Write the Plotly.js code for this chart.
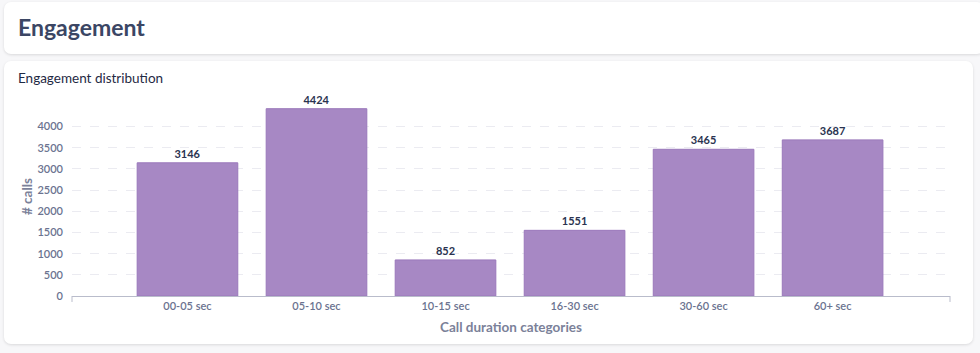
<!DOCTYPE html>
<html><head><meta charset="utf-8">
<script src="https://cdn.plot.ly/plotly-3.0.1.min.js"></script>
<style>
html,body{margin:0;padding:0;background:#f7f7f9;width:980px;height:353px;overflow:hidden;font-family:Lato,"Open Sans",sans-serif;}
.card{position:absolute;background:#fff;border-radius:7px;box-shadow:0 1px 3px rgba(0,0,0,0.12);}
#c1{left:4px;top:2px;width:980px;height:52px;}
#c1 h1{margin:0;position:absolute;left:14px;top:11px;font-size:23px;font-weight:700;color:#3b4664;}
#c2{left:4px;top:61px;width:969px;height:283px;}
#c2 .t{position:absolute;left:14px;top:9px;font-size:13.5px;color:#1f2a44;}
#chart{position:absolute;left:0;top:0;width:980px;height:353px;}
</style></head>
<body>
<div class="card" id="c1"><h1>Engagement</h1></div>
<div class="card" id="c2"><div class="t">Engagement distribution</div></div>
<div id="chart"></div>
<script>
const categories = ["00-05 sec","05-10 sec","10-15 sec","16-30 sec","30-60 sec","60+ sec"];
const calls = [3146, 4424, 852, 1551, 3465, 3687];
const yTicks = [0,500,1000,1500,2000,2500,3000,3500,4000];

const trace = {
  type:'bar', x:categories, y:calls,
  text:calls.map(String), textposition:'outside', cliponaxis:false,
  textfont:{family:'Lato', size:11, color:'#2a3350', weight:700},
  marker:{color:'#a788c4', line:{color:'#9a78bb', width:1}},
  hoverinfo:'none'
};
const layout = {
  width:980, height:353,
  margin:{l:72, r:30, t:97, b:57},
  paper_bgcolor:'rgba(0,0,0,0)', plot_bgcolor:'rgba(0,0,0,0)',
  bargap:0.22, showlegend:false,
  font:{family:'Lato', color:'#6b7390'},
  xaxis:{
    type:'category', range:[-0.895, 5.91], showgrid:false, zeroline:false,
    showline:true, linecolor:'#b9bccb', linewidth:1, ticks:'',
    tickfont:{size:11, color:'#6b7390', family:'Lato', weight:600},
    title:{text:'Call duration categories', font:{size:13.5, color:'#7b8199', family:'Lato', weight:700}, standoff:11}
  },
  yaxis:{
    range:[0, 4700], tickvals:yTicks, ticktext:yTicks.map(String),
    showgrid:true, gridcolor:'#ebebf1', griddash:'dash', gridwidth:1,
    zeroline:false, showline:false, ticks:'', ticklabelstandoff:8,
    tickfont:{size:11, color:'#6b7390', family:'Lato', weight:600},
    title:{text:'# calls', font:{size:13.5, color:'#7b8199', family:'Lato', weight:700}, standoff:1}
  },
  shapes:[
    {type:'line', xref:'paper', yref:'paper', x0:0, x1:0, y0:0, y1:-0.03, line:{color:'#b9bccb', width:1}},
    {type:'line', xref:'paper', yref:'paper', x0:1, x1:1, y0:0, y1:-0.03, line:{color:'#b9bccb', width:1}}
  ]
};
Plotly.newPlot('chart', [trace], layout, {displayModeBar:false, staticPlot:true});
</script>
</body></html>
